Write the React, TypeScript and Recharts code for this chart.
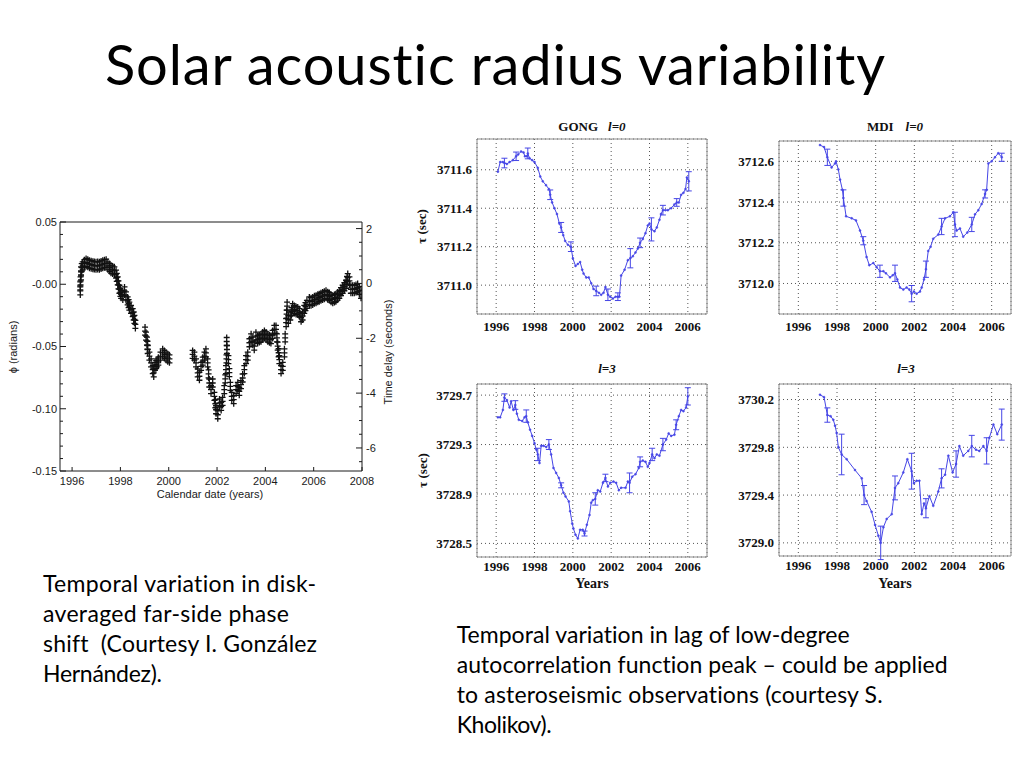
import React from 'react';
import {
  LineChart,
  Line,
  ScatterChart,
  Scatter,
  XAxis,
  YAxis,
  CartesianGrid,
  ErrorBar,
  ReferenceArea,
} from 'recharts';

const SERIF = '"Liberation Serif", "Times New Roman", serif';
const SANS = '"Liberation Sans", Arial, sans-serif';
const BODY = 'Lato, "Open Sans", sans-serif';
const BLUE = '#4646e6';
const INK = '#1a1a1a';

// ---- far-side phase shift (left plot) ----
const farsideYears = [
  1996.34, 1996.34, 1996.35, 1996.37, 1996.37, 1996.4, 1996.44, 1996.51, 1996.58, 1996.65,
  1996.72, 1996.79, 1996.86, 1996.92, 1996.99, 1997.06, 1997.13, 1997.2, 1997.27, 1997.34,
  1997.41, 1997.48, 1997.55, 1997.61, 1997.68, 1997.75, 1997.82, 1997.85, 1997.89, 1997.92,
  1997.96, 1998.0, 1998.03, 1998.1, 1998.17, 1998.23, 1998.3, 1998.34, 1998.37, 1998.44,
  1998.51, 1998.55, 1998.58, 1998.62,
  1999.02, 1999.06, 1999.1, 1999.12, 1999.13, 1999.2, 1999.27, 1999.34, 1999.38, 1999.43,
  1999.48, 1999.52, 1999.57, 1999.66, 1999.75, 1999.82, 1999.89, 1999.96, 2000.03,
  2000.99, 2001.06, 2001.13, 2001.2, 2001.27, 2001.34, 2001.41, 2001.48, 2001.54, 2001.61,
  2001.65, 2001.68, 2001.75, 2001.82, 2001.89, 2001.93, 2001.96, 2002.03, 2002.1, 2002.17,
  2002.23, 2002.3, 2002.34, 2002.37, 2002.39, 2002.4, 2002.41, 2002.47, 2002.51, 2002.55,
  2002.61, 2002.69, 2002.79, 2002.86, 2002.92, 2002.99, 2003.06, 2003.13, 2003.2, 2003.27,
  2003.34, 2003.41, 2003.48, 2003.54, 2003.61, 2003.68, 2003.75, 2003.82, 2003.89, 2003.96,
  2004.03, 2004.1, 2004.17, 2004.23, 2004.3, 2004.37, 2004.44, 2004.48, 2004.51, 2004.55,
  2004.58, 2004.65, 2004.72, 2004.79, 2004.82, 2004.86, 2004.88, 2004.9, 2004.95, 2005.03,
  2005.08, 2005.13, 2005.2, 2005.27, 2005.34, 2005.41, 2005.48, 2005.54, 2005.61, 2005.66,
  2005.72, 2005.82, 2005.89, 2005.96, 2006.03, 2006.1, 2006.17, 2006.23, 2006.3, 2006.37,
  2006.44, 2006.51, 2006.58, 2006.65, 2006.72, 2006.79, 2006.86, 2006.92, 2006.99, 2007.06,
  2007.13, 2007.2, 2007.27, 2007.34, 2007.38, 2007.41, 2007.48, 2007.54, 2007.61, 2007.68,
  2007.75, 2007.82, 2007.89, 2007.96,
];
const farsidePhase = [
  -0.0054, -0.0013, 0.0027, 0.0067, 0.0108, 0.0134, 0.0148, 0.0165, 0.0175, 0.0168,
  0.0161, 0.0157, 0.0153, 0.015, 0.0148, 0.015, 0.0148, 0.0155, 0.0161, 0.0165,
  0.0169, 0.0148, 0.0135, 0.0121, 0.0115, 0.0108, 0.0081, 0.0055, 0.0027, -0.0005,
  -0.004, -0.0065, -0.0081, -0.0094, -0.0054, -0.0094, -0.0134, -0.0155, -0.0175, -0.0202,
  -0.0228, -0.0255, -0.0282, -0.0323,
  -0.0376, -0.0417, -0.0457, -0.049, -0.0524, -0.0578, -0.0632, -0.0685, -0.0712, -0.0659,
  -0.0645, -0.0632, -0.0618, -0.0578, -0.0551, -0.0564, -0.0578, -0.0591, -0.0599,
  -0.0564, -0.0578, -0.0632, -0.0712, -0.0739, -0.0659, -0.0618, -0.0578, -0.0551, -0.0632,
  -0.072, -0.0793, -0.0847, -0.0793, -0.09, -0.096, -0.1008, -0.1048, -0.0954, -0.0981,
  -0.0941, -0.0847, -0.076, -0.0685, -0.06, -0.046, -0.0524, -0.0605, -0.071, -0.082,
  -0.09, -0.0927, -0.0847, -0.082, -0.086, -0.0806, -0.0753, -0.0685, -0.0605, -0.0578,
  -0.047, -0.043, -0.0457, -0.0497, -0.0417, -0.0444, -0.0435, -0.043, -0.0415, -0.0403,
  -0.0415, -0.043, -0.0438, -0.0444, -0.0403, -0.0363, -0.0363, -0.043, -0.0497, -0.055,
  -0.0605, -0.0685, -0.0659, -0.0551, -0.043, -0.0309, -0.024, -0.0175, -0.0282, -0.0255,
  -0.022, -0.0188, -0.0202, -0.021, -0.0215, -0.0228, -0.0269, -0.0255, -0.0202, -0.018,
  -0.0161, -0.0134, -0.014, -0.0134, -0.0125, -0.0121, -0.0112, -0.0108, -0.01, -0.0094,
  -0.0088, -0.0081, -0.0092, -0.0099, -0.0112, -0.0121, -0.0115, -0.0108, -0.0095, -0.0081,
  -0.006, -0.004, -0.002, 0.0, 0.003, 0.0054, 0.0027, -0.004, -0.004, -0.004,
  -0.0035, -0.0027, -0.005, -0.0081,
];
const farsideYearTicks = [1996, 1998, 2000, 2002, 2004, 2006, 2008];
const phaseMajorTicks = [0.05, 0, -0.05, -0.1, -0.15];
const phaseTickLabels = ['0.05', '-0.00', '-0.05', '-0.10', '-0.15'];
const delayMajorTicks = [2, 0, -2, -4, -6];
const delayTickLabels = ['2', '0', '-2', '-4', '-6'];

// ---- low-degree acoustic radius (right panels) ----
const yearTicks = [1996, 1998, 2000, 2002, 2004, 2006];

const gongL0Years = [
  1996.09, 1996.21, 1996.35, 1996.43, 1996.56, 1996.7, 1996.87, 1997.04, 1997.15, 1997.3,
  1997.43, 1997.5, 1997.6, 1997.65, 1997.74, 1997.88, 1998.0, 1998.17, 1998.3, 1998.43,
  1998.6, 1998.75, 1998.82, 1998.92, 1999.04, 1999.17, 1999.3, 1999.39, 1999.5, 1999.6,
  1999.74, 1999.9, 2000.0, 2000.14, 2000.26, 2000.38, 2000.49, 2000.56, 2000.7, 2000.83,
  2000.96, 2001.08, 2001.22, 2001.36, 2001.48, 2001.6, 2001.7, 2001.83, 2001.95, 2002.09,
  2002.23, 2002.35, 2002.43, 2002.52, 2002.7, 2002.87, 2003.0, 2003.13, 2003.27, 2003.39,
  2003.51, 2003.65, 2003.79, 2003.91, 2004.0, 2004.1, 2004.26, 2004.38, 2004.52, 2004.6,
  2004.7, 2004.83, 2004.96, 2005.13, 2005.3, 2005.42, 2005.53, 2005.65, 2005.77, 2005.88,
  2005.95, 2006.05,
];
const gongL0Tau = [
  3711.59, 3711.64, 3711.64, 3711.635, 3711.63, 3711.64, 3711.65, 3711.67, 3711.68, 3711.695,
  3711.69, 3711.67, 3711.67, 3711.685, 3711.66, 3711.65, 3711.64, 3711.61, 3711.565, 3711.54,
  3711.52, 3711.5, 3711.47, 3711.43, 3711.4, 3711.37, 3711.32, 3711.3, 3711.26, 3711.23,
  3711.21, 3711.2, 3711.14, 3711.1, 3711.11, 3711.12, 3711.08, 3711.06, 3711.04, 3711.04,
  3711.01, 3710.98, 3710.97, 3710.96, 3710.95, 3710.96, 3710.99, 3710.95, 3710.94, 3710.93,
  3710.94, 3710.94, 3710.94, 3711.05, 3711.08, 3711.13, 3711.14, 3711.15, 3711.17, 3711.19,
  3711.22, 3711.24, 3711.27, 3711.31, 3711.32, 3711.29, 3711.28, 3711.3, 3711.34, 3711.37,
  3711.39, 3711.39, 3711.39, 3711.4, 3711.42, 3711.43, 3711.43, 3711.47, 3711.48, 3711.5,
  3711.56, 3711.54,
];
const gongL0ErrYears = [1996.43, 1997.04, 1997.65, 1998.82, 1999.39, 1999.9, 2001.22, 2001.83, 2002.35, 2003.0, 2003.51, 2004.1, 2004.7, 2005.42, 2006.05];
const gongL0ErrSize = [0.025, 0.022, 0.028, 0.025, 0.026, 0.025, 0.025, 0.03, 0.02, 0.05, 0.025, 0.06, 0.025, 0.02, 0.05];

const mdiL0Years = [
  1997.12, 1997.33, 1997.5, 1997.72, 1997.9, 1997.95, 1998.07, 1998.16, 1998.28, 1998.33,
  1998.47, 1998.76, 1998.98, 1999.19, 1999.36, 1999.53, 1999.67, 1999.88, 2000.05, 2000.22,
  2000.4, 2000.53, 2000.74, 2000.88, 2001.0, 2001.12, 2001.26, 2001.43, 2001.6, 2001.74,
  2001.86, 2001.98, 2002.12, 2002.29, 2002.38, 2002.5, 2002.6, 2002.72, 2002.84, 2002.98,
  2003.24, 2003.41, 2003.59, 2003.84, 2004.02, 2004.1, 2004.19, 2004.36, 2004.53, 2004.74,
  2004.97, 2005.14, 2005.31, 2005.48, 2005.66, 2005.74, 2005.83, 2006.0, 2006.17, 2006.34,
  2006.52,
];
const mdiL0Tau = [
  3712.68, 3712.67, 3712.62, 3712.57, 3712.59, 3712.6, 3712.56, 3712.51, 3712.46, 3712.42,
  3712.33, 3712.32, 3712.31, 3712.26, 3712.21, 3712.13, 3712.09, 3712.1, 3712.08, 3712.06,
  3712.06, 3712.05, 3712.03, 3712.04, 3712.05, 3712.02, 3711.98, 3711.97, 3711.98, 3711.97,
  3711.95, 3711.96, 3711.95, 3711.96, 3711.98, 3712.02, 3712.07, 3712.16, 3712.18, 3712.22,
  3712.24, 3712.28, 3712.32, 3712.33, 3712.35, 3712.29, 3712.26, 3712.27, 3712.23, 3712.25,
  3712.29, 3712.34, 3712.36, 3712.39, 3712.44, 3712.46, 3712.59, 3712.6, 3712.62, 3712.64,
  3712.62,
];
const mdiL0ErrYears = [1997.5, 1998.33, 1999.36, 2000.22, 2001.0, 2001.86, 2002.6, 2003.41, 2004.1, 2004.97, 2005.66, 2006.52];
const mdiL0ErrSize = [0.04, 0.04, 0.02, 0.03, 0.04, 0.04, 0.04, 0.04, 0.06, 0.035, 0.02, 0.02];

const gongL3Years = [
  1996.09, 1996.21, 1996.35, 1996.43, 1996.56, 1996.7, 1996.78, 1996.9, 1997.0, 1997.08,
  1997.18, 1997.36, 1997.48, 1997.57, 1997.65, 1997.77, 1997.88, 1998.0, 1998.09, 1998.17,
  1998.26, 1998.35, 1998.47, 1998.61, 1998.75, 1998.87, 1998.99, 1999.13, 1999.27, 1999.39,
  1999.51, 1999.62, 1999.79, 1999.86, 1999.97, 2000.03, 2000.14, 2000.26, 2000.38, 2000.52,
  2000.61, 2000.73, 2000.87, 2000.96, 2001.04, 2001.17, 2001.3, 2001.43, 2001.57, 2001.7,
  2001.83, 2001.95, 2002.12, 2002.26, 2002.4, 2002.52, 2002.75, 2002.87, 2002.96, 2003.1,
  2003.27, 2003.44, 2003.51, 2003.65, 2003.79, 2003.91, 2004.0, 2004.14, 2004.26, 2004.38,
  2004.52, 2004.7, 2004.87, 2005.0, 2005.13, 2005.3, 2005.39, 2005.53, 2005.65, 2005.77,
  2005.91, 2006.0,
];
const gongL3Tau = [
  3729.52, 3729.52, 3729.58, 3729.68, 3729.66, 3729.6, 3729.65, 3729.58, 3729.62, 3729.55,
  3729.5, 3729.49, 3729.52, 3729.53, 3729.48, 3729.42, 3729.37, 3729.31, 3729.26, 3729.22,
  3729.15, 3729.29, 3729.29, 3729.28, 3729.3, 3729.22, 3729.11, 3729.07, 3729.03, 3728.97,
  3728.91, 3728.88, 3728.84, 3728.76, 3728.66, 3728.62, 3728.57, 3728.54, 3728.61, 3728.61,
  3728.58, 3728.65, 3728.73, 3728.83, 3728.85, 3728.86, 3728.93, 3728.92, 3728.99, 3729.03,
  3728.96, 3728.99, 3729.0, 3728.99, 3728.93, 3728.95, 3728.95, 3729.0, 3728.99, 3729.04,
  3729.06, 3729.11, 3729.16, 3729.17, 3729.16, 3729.12, 3729.15, 3729.22, 3729.19, 3729.22,
  3729.21, 3729.3, 3729.34, 3729.39, 3729.37, 3729.38, 3729.46, 3729.53, 3729.58, 3729.57,
  3729.6, 3729.69,
];
const gongL3ErrYears = [1996.43, 1997.0, 1997.57, 1998.17, 1998.75, 1999.39, 2000.61, 2001.17, 2001.7, 2002.96, 2003.51, 2004.14, 2004.7, 2005.39, 2006.0];
const gongL3ErrSize = [0.03, 0.035, 0.05, 0.05, 0.04, 0.02, 0.02, 0.05, 0.03, 0.08, 0.04, 0.05, 0.05, 0.04, 0.07];

const mdiL3Years = [
  1997.12, 1997.33, 1997.5, 1997.67, 1997.81, 1997.9, 1997.98, 1998.07, 1998.24, 1998.5,
  1998.93, 1999.28, 1999.4, 1999.53, 1999.79, 1999.97, 2000.14, 2000.26, 2000.4, 2000.57,
  2000.83, 2001.0, 2001.17, 2001.43, 2001.64, 2001.86, 2001.98, 2002.12, 2002.26, 2002.38,
  2002.5, 2002.6, 2002.78, 2002.98, 2003.24, 2003.41, 2003.59, 2003.76, 2003.98, 2004.16,
  2004.33, 2004.53, 2004.79, 2004.97, 2005.19, 2005.36, 2005.57, 2005.74, 2005.88, 2006.09,
  2006.29, 2006.52,
];
const mdiL3Tau = [
  3730.24, 3730.22, 3730.07, 3730.06, 3730.03, 3729.98, 3729.92, 3729.8, 3729.74, 3729.7,
  3729.61, 3729.54, 3729.4, 3729.35, 3729.26, 3729.15, 3729.06, 3729.0, 3729.13, 3729.2,
  3729.24, 3729.46, 3729.5, 3729.59, 3729.7, 3729.6, 3729.5, 3729.52, 3729.52, 3729.24,
  3729.33, 3729.29, 3729.39, 3729.31, 3729.43, 3729.54, 3729.57, 3729.73, 3729.59, 3729.66,
  3729.81, 3729.73, 3729.77, 3729.81, 3729.78, 3729.77, 3729.81, 3729.77, 3729.88, 3729.99,
  3729.91, 3729.99,
];
const mdiL3ErrYears = [1997.5, 1998.24, 1999.4, 2000.26, 2001.0, 2001.86, 2002.6, 2003.41, 2004.16, 2004.97, 2005.74, 2006.52];
const mdiL3ErrSize = [0.06, 0.17, 0.08, 0.14, 0.1, 0.15, 0.08, 0.08, 0.11, 0.09, 0.11, 0.13];

const leftCaption = [
  'Temporal variation in disk-',
  'averaged far-side phase',
  'shift  (Courtesy I. González',
  'Hernández).',
];
const rightCaption = [
  'Temporal variation in lag of low-degree',
  'autocorrelation function peak – could be applied',
  'to asteroseismic observations (courtesy S.',
  'Kholikov).',
];

function buildSeries(years: number[], tau: number[], errYears: number[], errSize: number[]) {
  return years.map((year, i) => {
    const k = errYears.indexOf(year);
    return { year, tau: tau[i], err: k >= 0 ? errSize[k] : null };
  });
}

const farsideData = farsideYears.map((year, i) => ({ year, phase: farsidePhase[i] }));

function minorTicks(from: number, to: number, step: number) {
  const out: number[] = [];
  for (let v = from; v <= to + 1e-9; v += step) out.push(Math.round(v * 1000) / 1000);
  return out;
}

const phaseTicks = minorTicks(-0.15, 0.05, 0.01);
const delayTicks = minorTicks(-6.5, 2, 0.5);

function PhaseTick({ x, y, payload }: any) {
  const v = payload.value;
  const idx = phaseMajorTicks.findIndex((t) => Math.abs(t - v) < 1e-6);
  return (
    <g>
      <line x1={x} x2={x + (idx >= 0 ? 6 : 3)} y1={y} y2={y} stroke={INK} />
      {idx >= 0 && (
        <text x={x - 3} y={y} dy="0.36em" textAnchor="end" fontSize={11} fontFamily={SANS} fill={INK}>
          {phaseTickLabels[idx]}
        </text>
      )}
    </g>
  );
}

function DelayTick({ x, y, payload }: any) {
  const v = payload.value;
  const idx = delayMajorTicks.findIndex((t) => Math.abs(t - v) < 1e-6);
  return (
    <g>
      <line x1={x} x2={x - (idx >= 0 ? 6 : 3)} y1={y} y2={y} stroke={INK} />
      {idx >= 0 && (
        <text x={x + 4} y={y} dy="0.36em" textAnchor="start" fontSize={11} fontFamily={SANS} fill={INK}>
          {delayTickLabels[idx]}
        </text>
      )}
    </g>
  );
}

function DateTick({ x, y, payload }: any) {
  return (
    <g>
      <line x1={x} x2={x} y1={y} y2={y - 4} stroke={INK} />
      <text x={x} y={y + 14} textAnchor="middle" fontSize={11} fontFamily={SANS} fill={INK}>
        {payload.value}
      </text>
    </g>
  );
}

function TopTick({ x, y }: any) {
  return <line x1={x} x2={x} y1={y} y2={y + 4} stroke={INK} />;
}

// each measurement is drawn as a small stack of "+" marks, like the dense overplotting in the original
function Cross(props: any) {
  const { cx, cy } = props;
  const d = [-4, 0, 4].map((o) => `M${cx - 3},${cy + o}h6M${cx},${cy + o - 3}v6`).join('');
  return <path d={d} stroke="#111" strokeWidth={1.3} fill="none" />;
}

function FarsideChart() {
  // plot area: x 60..362, y 222..471
  return (
    <div style={{ position: 'absolute', left: 10, top: 211 }}>
      <ScatterChart width={402} height={290} margin={{ top: 10, right: 10, bottom: 0, left: 0 }}>
        <XAxis
          dataKey="year"
          type="number"
          domain={[1995.5, 2008]}
          allowDataOverflow
          ticks={farsideYearTicks}
          interval={0}
          height={30}
          axisLine={{ stroke: INK }}
          tickLine={false}
          tickSize={0}
          tickMargin={0}
          tick={<DateTick />}
        />
        <XAxis
          xAxisId="top"
          orientation="top"
          type="number"
          domain={[1995.5, 2008]}
          allowDataOverflow
          ticks={farsideYearTicks}
          interval={0}
          height={1}
          axisLine={{ stroke: INK }}
          tickLine={false}
          tickSize={0}
          tickMargin={0}
          tick={<TopTick />}
        />
        <YAxis
          dataKey="phase"
          type="number"
          domain={[-0.15, 0.05]}
          allowDataOverflow
          ticks={phaseTicks}
          interval={0}
          width={50}
          axisLine={{ stroke: INK }}
          tickLine={false}
          tickSize={0}
          tickMargin={0}
          tick={<PhaseTick />}
        />
        <YAxis
          yAxisId="right"
          orientation="right"
          type="number"
          domain={[-6.84, 2.24]}
          allowDataOverflow
          ticks={delayTicks}
          interval={0}
          width={40}
          axisLine={{ stroke: INK }}
          tickLine={false}
          tickSize={0}
          tickMargin={0}
          tick={<DelayTick />}
        />
        <Scatter data={farsideData} shape={<Cross />} isAnimationActive={false} />
      </ScatterChart>
    </div>
  );
}

interface PanelProps {
  plotLeft: number;
  plotTop: number;
  plotW: number;
  plotH: number;
  data: { year: number; tau: number; err: number | null }[];
  yDomain: [number, number];
  yTicks: number[];
  xLabelGap: number;
}

function Panel({ plotLeft, plotTop, plotW, plotH, data, yDomain, yTicks, xLabelGap }: PanelProps) {
  const tickStyle = { fontSize: 13, fontWeight: 700, fontFamily: SERIF, fill: '#111' };
  return (
    <div style={{ position: 'absolute', left: plotLeft - 70, top: plotTop - 10 }}>
      <LineChart
        width={plotW + 80}
        height={plotH + 40}
        data={data}
        margin={{ top: 10, right: 10, bottom: 0, left: 0 }}
      >
        <CartesianGrid stroke="#555" strokeDasharray="1 3" />
        <XAxis
          dataKey="year"
          type="number"
          domain={[1995, 2007]}
          allowDataOverflow
          ticks={yearTicks}
          interval={0}
          height={30}
          axisLine={false}
          tickLine={false}
          tickSize={0}
          tickMargin={xLabelGap}
          tick={tickStyle}
        />
        <YAxis
          type="number"
          domain={yDomain}
          allowDataOverflow
          ticks={yTicks}
          interval={0}
          width={70}
          axisLine={false}
          tickLine={false}
          tickSize={0}
          tickMargin={5}
          tick={tickStyle}
          tickFormatter={(v) => Number(v).toFixed(1)}
        />
        <ReferenceArea
          x1={1995}
          x2={2007}
          y1={yDomain[0]}
          y2={yDomain[1]}
          fill="none"
          stroke="#8c8c8c"
          strokeWidth={1}
          ifOverflow="visible"
        />
        <Line
          type="linear"
          dataKey="tau"
          stroke={BLUE}
          strokeWidth={1}
          dot={{ r: 1, fill: BLUE, stroke: BLUE, strokeWidth: 0.5 }}
          isAnimationActive={false}
        >
          <ErrorBar dataKey="err" direction="y" width={3} stroke={BLUE} strokeWidth={1} />
        </Line>
      </LineChart>
    </div>
  );
}

function Overlay() {
  const serifBold = { fontFamily: SERIF, fontWeight: 700, fontSize: 13, fill: '#111' };
  const sansSmall = { fontFamily: SANS, fontSize: 11, fill: INK };
  const bodyStyle = { whiteSpace: 'pre' as const, fontVariantLigatures: 'none' as const };
  return (
    <svg
      width={1024}
      height={768}
      style={{ position: 'absolute', left: 0, top: 0, pointerEvents: 'none' }}
    >
      <text x={105} y={85} fontFamily={BODY} fontSize={56} fill="#000" textLength={780} style={bodyStyle}>
        Solar acoustic radius variability
      </text>

      {/* left plot labels */}
      <text {...sansSmall} transform="translate(17,347) rotate(-90)" textAnchor="middle">
        ϕ (radians)
      </text>
      <text {...sansSmall} transform="translate(392,352) rotate(-90)" textAnchor="middle">
        Time delay (seconds)
      </text>
      <text {...sansSmall} x={210} y={498} textAnchor="middle">
        Calendar date (years)
      </text>

      {/* right panel labels */}
      <text {...serifBold} x={592} y={131} textAnchor="middle">
        GONG<tspan dx={10} fontStyle="italic">l=0</tspan>
      </text>
      <text {...serifBold} x={895} y={131} textAnchor="middle">
        MDI<tspan dx={12} fontStyle="italic">l=0</tspan>
      </text>
      <text {...serifBold} x={607} y={373} textAnchor="middle" fontStyle="italic">
        l=3
      </text>
      <text {...serifBold} x={906} y={373} textAnchor="middle" fontStyle="italic">
        l=3
      </text>
      <text {...serifBold} transform="translate(426,226.5) rotate(-90)" textAnchor="middle">
        τ (sec)
      </text>
      <text {...serifBold} transform="translate(427,470.5) rotate(-90)" textAnchor="middle">
        τ (sec)
      </text>
      <text {...serifBold} fontSize={14} x={592} y={588} textAnchor="middle">
        Years
      </text>
      <text {...serifBold} fontSize={14} x={895} y={588} textAnchor="middle">
        Years
      </text>

      {/* captions */}
      {leftCaption.map((line, i) => (
        <text
          key={`l${i}`}
          x={43}
          y={591.7 + i * 30}
          fontFamily={BODY}
          fontSize={23}
          fill="#000"
          style={bodyStyle}
          textLength={[273, 246, 274, 119][i]}
        >
          {line}
        </text>
      ))}
      {rightCaption.map((line, i) => (
        <text
          key={`r${i}`}
          x={456.7}
          y={643.3 + i * 30}
          fontFamily={BODY}
          fontSize={23}
          fill="#000"
          style={bodyStyle}
          textLength={[393, 491, 426, 95][i]}
        >
          {line}
        </text>
      ))}
    </svg>
  );
}

export default function App() {
  const gongL0 = buildSeries(gongL0Years, gongL0Tau, gongL0ErrYears, gongL0ErrSize);
  const mdiL0 = buildSeries(mdiL0Years, mdiL0Tau, mdiL0ErrYears, mdiL0ErrSize);
  const gongL3 = buildSeries(gongL3Years, gongL3Tau, gongL3ErrYears, gongL3ErrSize);
  const mdiL3 = buildSeries(mdiL3Years, mdiL3Tau, mdiL3ErrYears, mdiL3ErrSize);

  return (
    <div style={{ position: 'absolute', left: 0, top: 0, width: 1024, height: 768, background: '#fff' }}>
      <FarsideChart />
      <Panel
        plotLeft={477}
        plotTop={139}
        plotW={230}
        plotH={175}
        data={gongL0}
        yDomain={[3710.85, 3711.76]}
        yTicks={[3711.0, 3711.2, 3711.4, 3711.6]}
        xLabelGap={8}
      />
      <Panel
        plotLeft={779}
        plotTop={141}
        plotW={232}
        plotH={173}
        data={mdiL0}
        yDomain={[3711.85, 3712.7]}
        yTicks={[3712.0, 3712.2, 3712.4, 3712.6]}
        xLabelGap={8}
      />
      <Panel
        plotLeft={477}
        plotTop={384}
        plotW={230}
        plotH={173}
        data={gongL3}
        yDomain={[3728.39, 3729.79]}
        yTicks={[3728.5, 3728.9, 3729.3, 3729.7]}
        xLabelGap={5}
      />
      <Panel
        plotLeft={779}
        plotTop={384}
        plotW={232}
        plotH={172}
        data={mdiL3}
        yDomain={[3728.89, 3730.33]}
        yTicks={[3729.0, 3729.4, 3729.8, 3730.2]}
        xLabelGap={5}
      />
      <Overlay />
    </div>
  );
}
